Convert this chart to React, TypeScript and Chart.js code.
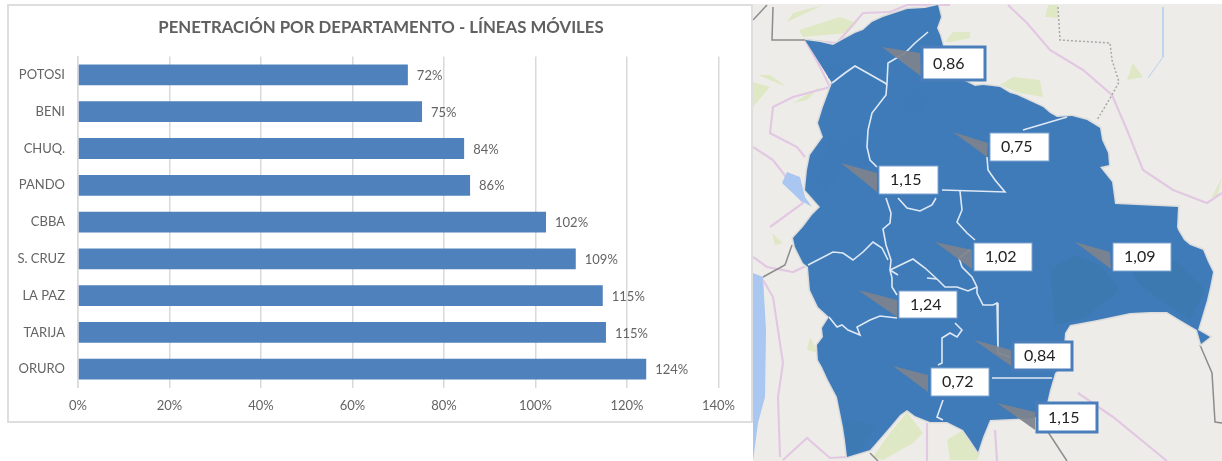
import React, { useEffect, useRef } from "react";
import { Chart, registerables } from "chart.js";

Chart.register(...registerables);

const FONT = "Lato, 'Open Sans', sans-serif";
const GREY = "#646464";

// Bar chart data
const departments = ["POTOSI", "BENI", "CHUQ.", "PANDO", "CBBA", "S. CRUZ", "LA PAZ", "TARIJA", "ORURO"];
const penetration = [72.1, 75.2, 84.4, 85.7, 102.3, 108.8, 114.7, 115.4, 124.2];
const xTicks = [0, 20, 40, 60, 80, 100, 120, 140];

// Map data, in map units (x east, y south)
type P = number[];
const country: P[] = [[805,40],[820,42],[833,45],[842,40],[855,33],[863,30],[872,22],[883,17],[895,13],[907,9],[925,8],[938,5],[941,17],[937,28],[940,35],[942,42],[944,50],[955,78],[967,82],[975,86],[983,85],[992,86],[1000,87],[1010,93],[1017,95],[1030,101],[1043,107],[1050,113],[1057,117],[1072,116],[1087,120],[1100,128],[1102,140],[1108,153],[1109,165],[1100,167],[1112,182],[1115,204],[1178,207],[1177,227],[1178,230],[1184,240],[1190,245],[1203,250],[1208,262],[1213,272],[1210,287],[1207,300],[1198,330],[1210,337],[1201,344],[1197,330],[1180,320],[1167,312],[1150,312],[1130,313],[1097,320],[1070,325],[1065,333],[1064,345],[1058,370],[1055,373],[1050,390],[1047,403],[1040,415],[1033,418],[990,420],[983,437],[978,452],[970,440],[963,430],[947,422],[930,422],[915,416],[907,410],[900,415],[890,427],[870,450],[847,457],[845,440],[843,427],[837,397],[828,380],[822,367],[818,360],[817,345],[823,337],[822,328],[829,317],[818,307],[810,290],[808,267],[803,263],[795,247],[793,238],[803,227],[812,215],[820,207],[805,190],[807,170],[810,155],[823,137],[818,123],[823,107],[832,83]];
const shadeA: P[] = [[1050,270],[1075,255],[1100,265],[1120,290],[1085,318],[1055,325]];
const shadeB: P[] = [[1120,255],[1177,262],[1205,290],[1190,320],[1140,285]];
const shadeC: P[] = [[845,420],[875,425],[860,450],[848,456]];
const shadeD: P[] = [[903,92],[915,88],[928,98],[920,112],[906,112]];
const shadeE: P[] = [[815,185],[830,140],[860,135],[870,165],[840,170],[825,195]];
const shadeF: P[] = [[828,66],[880,60],[860,70],[838,72],[828,78]];
const internalBorders: P[][] = [
  [[832,83],[845,73],[855,66],[885,83],[887,85]],
  [[928,32],[915,43],[905,53],[888,63],[887,83],[886,95],[872,113],[868,130],[867,147],[870,160],[877,167]],
  [[886,198],[891,213],[890,223],[883,229],[886,245],[891,260],[890,270],[892,278],[892,287],[897,295]],
  [[890,270],[898,275]],
  [[808,265],[833,252],[843,253],[853,260],[863,252],[873,242],[882,248],[888,260]],
  [[829,317],[837,327],[842,325],[848,330],[860,335],[857,327],[870,320],[880,316],[897,318]],
  [[890,270],[913,259],[925,268],[938,280],[945,287],[957,287],[968,291],[977,287]],
  [[927,278],[937,279]],
  [[960,191],[962,210],[957,222],[967,233],[975,240]],
  [[970,250],[959,258],[962,267],[972,277],[977,287],[977,293],[983,305],[993,305],[997,303],[998,353],[1010,357]],
  [[1023,130],[1067,117]],
  [[987,157],[988,170],[995,180],[1005,192],[942,190]],
  [[898,198],[907,208],[920,211],[932,205],[936,198]],
  [[955,323],[962,330],[957,337],[950,333],[942,338],[942,363],[938,365]],
  [[943,400],[937,417],[943,420]],
  [[992,378],[1052,378]],
];
const sea: P[] = [[753,273],[763,277],[766,330],[765,397],[758,423],[753,461]];
const lake: P[] = [[782,183],[787,172],[800,177],[805,197],[812,207],[800,200]];
const greenPatches: P[][] = [
  [[799,30],[840,17],[857,23],[847,33],[803,37]],
  [[787,22],[823,5],[793,13]],
  [[945,42],[953,32],[970,32],[970,38],[950,42]],
  [[1000,85],[1013,77],[1040,80],[1043,97],[1020,93]],
  [[1045,17],[1048,5],[1058,5],[1058,18]],
  [[1127,80],[1133,63],[1143,77]],
  [[753,107],[770,87],[753,82]],
  [[793,103],[820,87],[807,100]],
  [[758,75],[787,87],[770,75]],
  [[907,412],[923,433],[913,443],[883,460],[873,457],[890,433]],
  [[950,460],[947,440],[963,430],[980,453],[977,460]],
  [[810,337],[818,353],[807,350]],
  [[1212,197],[1222,177],[1217,197]],
  [[772,233],[783,243],[775,245]],
];
const roads: P[][] = [
  [[1008,5],[1027,23],[1050,50],[1083,70],[1112,95],[1127,130],[1143,170],[1173,190],[1207,203],[1222,193]],
  [[805,40],[837,43],[863,13],[890,12],[907,5],[950,5]],
  [[805,40],[818,63],[830,87],[793,97],[773,107],[770,133],[797,147],[805,157]],
  [[753,147],[773,160],[783,173],[803,203],[770,227]],
  [[753,257],[767,267],[793,272],[808,265]],
  [[763,280],[773,297],[778,330],[783,363],[778,397],[780,457]],
  [[783,460],[807,438],[830,458],[847,457]],
  [[927,423],[927,461]],
  [[995,430],[997,461]],
  [[1078,393],[1113,417],[1167,461]],
];
const greyBorders: P[][] = [
  [[773,7],[772,40],[805,40]],
  [[753,20],[767,5]],
  [[1200,345],[1212,373],[1215,422],[1222,423]],
  [[1048,432],[1067,461]],
  [[870,453],[878,461]],
  [[763,277],[785,265],[792,245]],
];
const dottedBorder: P[] = [[1058,7],[1060,40],[1110,43],[1112,60],[1119,82],[1112,95],[1097,120]];
const river: P[] = [[1163,7],[1163,57],[1148,78]];

const calloutTexts = ["0,86", "0,75", "1,15", "1,02", "1,09", "1,24", "0,84", "0,72", "1,15"];
const calloutBoxes: number[][] = [[922,47,985,80],[990,133,1049,161],[879,166,938,194],[974,243,1032,271],[1113,243,1171,271],[899,291,957,318],[1013,342,1072,370],[931,368,989,396],[1037,403,1097,432]];
const calloutTails: P[][] = [
  [[882,47],[920,53],[922,77]],
  [[953,132],[988,143],[987,157]],
  [[841,163],[877,173],[877,192]],
  [[935,242],[972,250],[972,269]],
  [[1075,242],[1110,252],[1111,269]],
  [[858,290],[897,300],[897,317]],
  [[974,340],[1011,350],[1011,366]],
  [[893,366],[928,375],[928,392]],
  [[997,403],[1035,412],[1035,430]],
];
const calloutThick = [true, false, false, false, false, false, true, false, true];

const toPts = (a: P[]) => a.map(([x, y]) => ({ x, y }));
const area = (a: P[], color: string) => ({ data: toPts(a), fill: "shape", backgroundColor: color, borderColor: color, borderWidth: 0, showLine: true, pointRadius: 0, tension: 0 });
const line = (a: P[], color: string, width: number, dash: number[] = []) => ({ data: toPts(a), fill: false, borderColor: color, borderWidth: width, borderDash: dash, showLine: true, pointRadius: 0, tension: 0 });

export default function App() {
  const barRef = useRef<HTMLCanvasElement>(null);
  const mapRef = useRef<HTMLCanvasElement>(null);

  useEffect(() => {
    document.body.style.margin = "0";
    const barLabels = {
      id: "barLabels",
      afterDatasetsDraw(chart: any) {
        const { ctx } = chart;
        const meta = chart.getDatasetMeta(0);
        ctx.save();
        ctx.font = `13px ${FONT}`;
        ctx.fillStyle = GREY;
        ctx.textAlign = "left";
        ctx.textBaseline = "middle";
        meta.data.forEach((el: any, i: number) => {
          ctx.fillText(`${Math.round(penetration[i])}%`, el.x + 9, el.y + 1);
        });
        ctx.restore();
      },
    };
    const bar = new Chart(barRef.current!, {
      type: "bar",
      data: {
        labels: departments,
        datasets: [{ data: penetration, backgroundColor: "#4f81bd", barPercentage: 0.565, categoryPercentage: 1 }],
      },
      options: {
        indexAxis: "y",
        animation: false,
        responsive: false,
        layout: { padding: 0 },
        plugins: {
          legend: { display: false },
          tooltip: { enabled: false },
          title: {
            display: true,
            text: "PENETRACIÓN POR DEPARTAMENTO - LÍNEAS MÓVILES",
            color: "#606060",
            font: { family: FONT, size: 16.8, weight: "bold" },
            padding: { top: 12, bottom: 18.4 },
          },
        },
        scales: {
          x: {
            min: 0,
            max: 147.54,
            afterFit: (s: any) => { s.height = 33.4; },
            afterBuildTicks: (s: any) => { s.ticks = xTicks.map((value) => ({ value })); },
            grid: { color: "#d9d9d9", lineWidth: 1.5, drawTicks: false },
            border: { display: false },
            ticks: { color: GREY, padding: 10, maxRotation: 0, font: { family: FONT, size: 13 }, callback: (v: any) => `${v}%` },
          },
          y: {
            afterFit: (s: any) => { s.width = 69; },
            grid: { display: false, drawTicks: false },
            border: { display: true, color: "#d9d9d9", width: 1.5 },
            ticks: { color: GREY, padding: 13, font: { family: FONT, size: 13 } },
          },
        },
      },
      plugins: [barLabels],
    } as any);

    const callouts = {
      id: "callouts",
      afterDatasetsDraw(chart: any) {
        const { ctx, scales } = chart;
        ctx.save();
        calloutBoxes.forEach(([x0, y0, x1, y1], i) => {
          const l = scales.x.getPixelForValue(x0);
          const r = scales.x.getPixelForValue(x1);
          const t = scales.y.getPixelForValue(y0);
          const b = scales.y.getPixelForValue(y1);
          ctx.fillStyle = "#ffffff";
          ctx.fillRect(l, t, r - l, b - t);
          ctx.strokeStyle = calloutThick[i] ? "#4a7ebb" : "#7fa4d0";
          ctx.lineWidth = calloutThick[i] ? 3 : 1;
          ctx.strokeRect(l, t, r - l, b - t);
          ctx.fillStyle = "#222222";
          ctx.font = `16px ${FONT}`;
          ctx.textAlign = "left";
          ctx.textBaseline = "middle";
          ctx.fillText(calloutTexts[i], l + 11, (t + b) / 2);
        });
        ctx.restore();
      },
    };
    const layers: any[] = [
      area(sea, "#a9c7f1"),
      ...greenPatches.map((g) => area(g, "#dfe8c4")),
      ...roads.map((r) => line(r, "#e2c8e2", 2.2)),
      ...greyBorders.map((g) => line(g, "#8c8c8c", 1.5)),
      line(dottedBorder, "#a8a8a8", 1.5, [2, 2]),
      line(river, "#b5d2f0", 1),
      area(lake, "#a9c7f1"),
      line(country, "#dcdcdc", 3),
      area(country, "#3f7bb9"),
      area(shadeA, "#3d79b1"),
      area(shadeB, "#3d79b1"),
      area(shadeC, "#3d79b3"),
      area(shadeD, "#3e7ab7"),
      area(shadeE, "#3e7ab7"),
      area(shadeF, "#3e7ab7"),
      ...internalBorders.map((b) => line(b, "#dfe9f5", 1.6)),
      ...calloutTails.map((t) => area(t, "rgba(125,130,140,0.92)")),
    ];
    layers.forEach((d, i) => { d.order = layers.length - i; });
    const map = new Chart(mapRef.current!, {
      type: "scatter",
      data: { datasets: layers },
      options: {
        animation: false,
        responsive: false,
        layout: { padding: 0 },
        plugins: { legend: { display: false }, tooltip: { enabled: false } },
        scales: {
          x: { type: "linear", display: false, min: 753, max: 1222 },
          y: { type: "linear", display: false, min: 4, max: 461, reverse: true },
        },
      },
      plugins: [callouts],
    } as any);
    return () => { bar.destroy(); map.destroy(); };
  }, []);

  return (
    <div style={{ position: "absolute", left: 0, top: 0, width: 1222, height: 461, background: "#fff", overflow: "hidden" }}>
      <div style={{ position: "absolute", left: 7, top: 4, width: 746, height: 419, border: "2px solid #dedede", boxSizing: "border-box" }} />
      <canvas ref={barRef} width={744} height={415} style={{ position: "absolute", left: 9, top: 6, display: "block" }} />
      <canvas ref={mapRef} width={469} height={457} style={{ position: "absolute", left: 753, top: 4, display: "block", background: "#eeece8" }} />
    </div>
  );
}
